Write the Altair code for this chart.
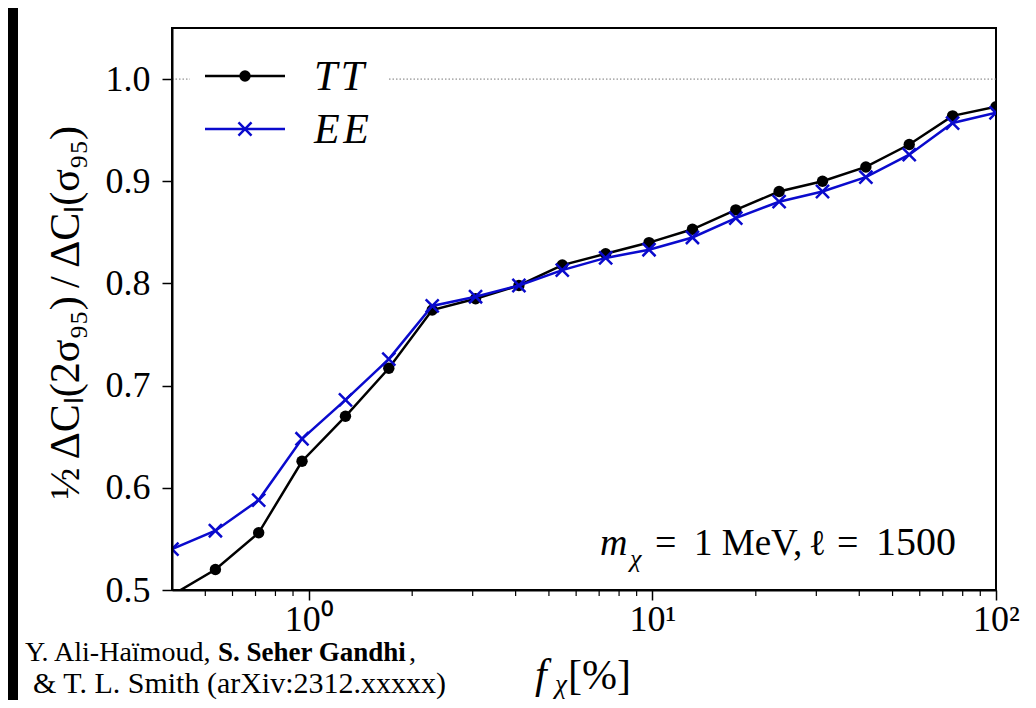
import altair as alt
import pandas as pd

# ---------------- data ----------------
f_pct = [0.4, 0.535, 0.715, 0.956, 1.279, 1.710, 2.287, 3.058, 4.089, 5.468,
         7.312, 9.778, 13.08, 17.49, 23.38, 31.27, 41.81, 55.91, 74.77, 100.0]
tt_ratio = [0.495, 0.520, 0.556, 0.626, 0.670, 0.717, 0.774, 0.785, 0.798, 0.818,
            0.829, 0.840, 0.853, 0.872, 0.890, 0.900, 0.914, 0.936, 0.964, 0.973]
ee_ratio = [0.540, 0.558, 0.588, 0.648, 0.686, 0.726, 0.778, 0.787, 0.798, 0.813,
            0.825, 0.833, 0.845, 0.864, 0.880, 0.890, 0.904, 0.926, 0.957, 0.967]

series_names = ["T\u200aT", "E\u200aE"]
x_major = [1, 10, 100]
x_major_labels = ["10⁰", "10¹", "10²"]
x_minor = [0.5, 0.6, 0.7, 0.8, 0.9, 2, 3, 4, 5, 6, 7, 8, 9,
           20, 30, 40, 50, 60, 70, 80, 90]
y_ticks = [0.5, 0.6, 0.7, 0.8, 0.9, 1.0]
ref_level = [1.0]

y_title = "½\u2009ΔCₗ(2σ₉₅)\u2009/\u2009ΔCₗ(σ₉₅)"
x_title_parts = ["f", "χ", "[%]"]
annot_parts = ["m", "χ", "=", "1 MeV,", "ℓ", "=", "1500"]
credit_line1 = ["Y. Ali-Haïmoud,", "S. Seher Gandhi", ","]
credit_line2 = "& T. L. Smith (arXiv:2312.xxxxx)"

# ---------------- styling ----------------
SERIF = "Liberation Serif"
BLUE = "#0a0acd"
W, H = 824, 562

df = pd.DataFrame({"f": f_pct, "TT": tt_ratio, "EE": ee_ratio})
one = alt.Data(values=[{"k": 0}])

xscale = alt.Scale(type="log", domain=[0.4, 100], nice=False)
yscale = alt.Scale(domain=[0.5, 1.05], nice=False, zero=False)

label_expr = " : ".join(
    f"datum.value == {v} ? '{s}'" for v, s in zip(x_major[:-1], x_major_labels[:-1])
) + f" : '{x_major_labels[-1]}'"

xaxis = alt.Axis(values=x_major, labelExpr=label_expr, tickSize=10, tickWidth=1.5,
                 tickColor="black", domainColor="black", domainWidth=2,
                 labelFont=SERIF, labelFontSize=36, labelColor="black",
                 labelPadding=2, labelFlush=False, labelOverlap=False,
                 grid=False, title=None, zindex=1)
yaxis = alt.Axis(values=y_ticks, format=".1f", tickSize=10, tickWidth=1.5,
                 tickColor="black", domainColor="black", domainWidth=2,
                 labelFont=SERIF, labelFontSize=36, labelColor="black",
                 labelPadding=12, grid=False, title=y_title, titleFont=SERIF,
                 titleFontSize=42, titleFontWeight="normal", titleColor="black",
                 titleAngle=270, titleX=-107, titleY=H / 2 + 3,
                 titleAlign="center", titleBaseline="middle", zindex=1)


def X(field):
    return alt.X(field, type="quantitative", scale=xscale, axis=xaxis)


def Y(field):
    return alt.Y(field, type="quantitative", scale=yscale, axis=yaxis)


base = alt.Chart(df)

# dotted reference line at 1.0
ref_rule = alt.Chart(pd.DataFrame({"y": ref_level})).mark_rule(
    color="#777777", strokeWidth=1, strokeDash=[1.5, 2]
).encode(y=Y("y"), x=alt.value(0), x2=alt.value(W))

# minor ticks on the log axis
minor_ticks = alt.Chart(pd.DataFrame({"m": x_minor})).mark_rule(
    color="black", strokeWidth=1.2
).encode(x=X("m"), y=alt.value(H), y2=alt.value(H + 6))

tt_line = base.mark_line(color="black", strokeWidth=2.5, clip=True).encode(x=X("f"), y=Y("TT"))
tt_pts = base.mark_point(shape="circle", filled=True, color="black", opacity=1,
                         size=130, clip=True).encode(x=X("f"), y=Y("TT"))
ee_line = base.mark_line(color=BLUE, strokeWidth=2.5, clip=True).encode(x=X("f"), y=Y("EE"))
ee_pts = base.mark_point(shape="M-1,-1L1,1M-1,1L1,-1", filled=False, color=BLUE,
                         strokeWidth=2.5, opacity=1, size=170, clip=True
                         ).encode(x=X("f"), y=Y("EE"))

# legend (matplotlib-like, upper left, white box)
leg_box = alt.Chart(one).mark_rect(color="white").encode(
    x=alt.value(18), x2=alt.value(216), y=alt.value(12), y2=alt.value(122))
leg_tt_line = alt.Chart(one).mark_rule(color="black", strokeWidth=2.5).encode(
    x=alt.value(33), x2=alt.value(113), y=alt.value(48))
leg_tt_pt = alt.Chart(one).mark_point(shape="circle", filled=True, color="black",
                                      opacity=1, size=130).encode(
    x=alt.value(73), y=alt.value(48))
leg_ee_line = alt.Chart(one).mark_rule(color=BLUE, strokeWidth=2.5).encode(
    x=alt.value(33), x2=alt.value(113), y=alt.value(101))
leg_ee_pt = alt.Chart(one).mark_point(shape="M-1,-1L1,1M-1,1L1,-1", filled=False,
                                      color=BLUE, strokeWidth=2.5, opacity=1,
                                      size=170).encode(
    x=alt.value(73), y=alt.value(101))


def txt(s, x, y, size, style="normal", weight="normal", align="left"):
    return alt.Chart(one).mark_text(font=SERIF, fontSize=size, fontStyle=style,
                                    fontWeight=weight, align=align,
                                    baseline="alphabetic", color="black").encode(
        x=alt.value(x), y=alt.value(y), text=alt.value(s))


leg_tt_txt = txt(series_names[0], 142, 62, 42, style="italic")
leg_ee_txt = txt(series_names[1], 142, 115, 42, style="italic")

# annotation m_chi = 1 MeV, l = 1500
ann = [
    txt(annot_parts[0], 428, 527, 38, style="italic"),
    txt(annot_parts[1], 458, 539, 26, style="italic"),
    txt(annot_parts[2], 483, 527, 38),
    txt(annot_parts[3], 522, 527, 37),
    txt(annot_parts[4], 637, 527, 36),
    txt(annot_parts[5], 665, 527, 38),
    txt(annot_parts[6], 704, 527, 40),
]

# x-axis title f_chi [%]
xt1 = txt(x_title_parts[0], 363, 660, 42, style="italic")
xt2 = txt(x_title_parts[1], 383, 665, 27, style="italic")
xt3 = txt(x_title_parts[2], 396, 661, 42)

# credits
cr1 = txt(credit_line1[0], -147, 633, 28)
cr2 = txt(credit_line1[1], 46, 633, 27, weight="bold")
cr3 = txt(credit_line1[2], 237, 633, 28)
cr4 = txt(credit_line2, -139, 665, 30)

# black strip on the left (video frame border)
strip = alt.Chart(one).mark_rect(color="black").encode(
    x=alt.value(-164), x2=alt.value(-154), y=alt.value(-20), y2=alt.value(680))

chart = alt.layer(
    ref_rule, minor_ticks, leg_box,
    tt_line, tt_pts, ee_line, ee_pts,
    leg_tt_line, leg_tt_pt, leg_ee_line, leg_ee_pt, leg_tt_txt, leg_ee_txt,
    *ann, xt1, xt2, xt3, cr1, cr2, cr3, cr4, strip
).properties(
    width=W, height=H,
    autosize=alt.AutoSizeParams(type="none"),
    padding={"left": 164, "top": 20, "right": 32, "bottom": 110},
).configure(background="white").configure_view(
    stroke="black", strokeWidth=2, fill="white"
)

chart.save("out.html", embed_options={"renderer": "svg", "actions": False})
